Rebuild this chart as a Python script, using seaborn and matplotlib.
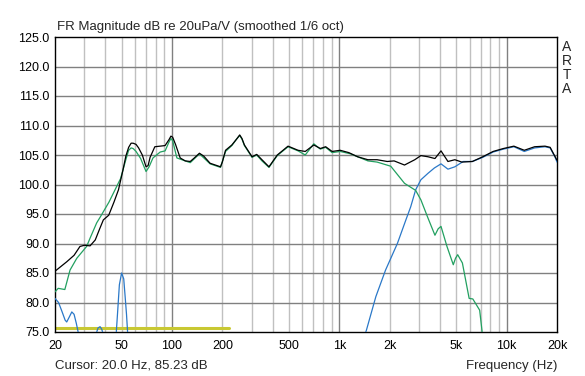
import numpy as np
import pandas as pd
import matplotlib
matplotlib.use("Agg")
import matplotlib.pyplot as plt
import seaborn as sns
from matplotlib.ticker import FixedLocator, NullFormatter

# frequency response
sum_freq = [20, 23.5, 26, 28.2, 30, 32.4, 34.8, 37, 38.9, 41.9, 45, 47.9, 51, 53, 55.1, 57,
            58.6, 61, 63.2, 66.5, 70, 72, 74, 79, 85, 91, 96, 98.6, 101, 105, 112, 120,
            128.6, 136, 146, 155, 169, 195, 200, 209, 228, 245, 254, 262, 271, 301, 321,
            345, 380, 426, 494, 567, 626, 704, 770, 829, 906, 1012, 1141, 1287, 1482,
            1682, 1935, 2126, 2453, 2826, 3073, 3390, 3729, 4054, 4460, 4905, 5400, 6240,
            7200, 8300, 9570, 11050, 12750, 14700, 16950, 18200, 19500, 20000]
sum_db = [85.3, 86.9, 88.0, 89.5, 89.7, 89.6, 90.6, 92.5, 94.0, 94.8, 97.0, 99.1, 102.5, 104.8,
          106.3, 107.0, 107.0, 106.8, 106.2, 105.0, 103.0, 103.2, 104.6, 106.4, 106.5, 106.6,
          107.6, 108.2, 108.0, 106.8, 104.5, 104.0, 103.9, 104.5, 105.3, 104.8, 103.6, 103.0,
          103.8, 105.8, 106.7, 107.8, 108.4, 107.8, 106.7, 104.7, 105.1, 104.2, 103.0, 105.0,
          106.5, 105.8, 105.6, 106.7, 106.1, 106.4, 105.6, 105.8, 105.4, 104.7, 104.2, 104.2,
          103.9, 104.0, 103.3, 104.2, 104.9, 104.7, 104.4, 105.7, 103.9, 104.2, 103.8, 103.9,
          104.7, 105.6, 106.1, 106.5, 105.8, 106.4, 106.5, 106.3, 104.7, 104.1]

woofer_freq = [20, 20.9, 22.9, 24.6, 27.0, 30.9, 32.4, 35.5, 37.3, 42, 49.3, 53, 55.1, 57,
               58.6, 61, 65, 70, 73, 77, 85, 91, 96, 98.6, 101, 107, 128.6, 146, 169, 195,
               209, 228, 245, 254, 262, 271, 301, 321, 345, 380, 426, 494, 567, 626, 704,
               770, 829, 906, 1012, 1165, 1482, 1682, 2030, 2453, 2860, 3073, 3390, 3729,
               3900, 4054, 4400, 4800, 4950, 5100, 5440, 5970, 6280, 6900, 7120, 7400]
woofer_db = [81.8, 82.4, 82.2, 85.5, 87.5, 89.5, 90.9, 93.5, 94.5, 97.0, 101.0, 104.2, 105.8,
             106.2, 106.1, 105.6, 104.4, 102.2, 103.0, 104.5, 105.5, 105.7, 107.2, 107.8,
             107.4, 104.5, 103.7, 105.2, 103.5, 102.9, 105.6, 106.6, 107.8, 108.3, 107.7,
             106.6, 104.6, 105.0, 104.0, 102.9, 104.9, 106.4, 105.7, 105.0, 106.9, 106.0,
             106.3, 105.4, 105.6, 105.2, 104.0, 103.8, 103.1, 100.2, 99.0, 97.4, 94.3, 91.4,
             92.5, 92.9, 89.5, 86.4, 87.5, 88.1, 86.7, 80.7, 80.6, 78.7, 75.3, 70.0]

tweeter_freq = [20, 21, 22, 23, 23.5, 24.3, 25.2, 26, 26.8, 27.5, 28.5, 35.5, 36.2, 37.2, 38,
                38.5, 45, 46.5, 47.5, 48.5, 50, 51.5, 52.5, 53.5, 54.3, 56, 1400, 1452,
                1654, 1890, 2224, 2500, 2670, 2860, 3073, 3390, 3700, 4054, 4460, 4905,
                5500, 6240, 7200, 8300, 9570, 11050, 12750, 14700, 16950, 18200, 19500,
                20000]
tweeter_db = [80.7, 80.0, 78.5, 77.0, 76.7, 77.5, 78.4, 78.0, 76.5, 75.0, 70.0, 75.0, 75.7,
              75.9, 75.5, 75.0, 70.0, 75.0, 79.0, 83.0, 85.0, 84.0, 81.0, 78.0, 75.0, 70.0,
              74.0, 75.3, 81.0, 85.5, 90.0, 94.0, 96.2, 99.1, 100.8, 101.9, 102.8, 103.5,
              102.6, 103.0, 103.9, 103.9, 104.6, 105.5, 106.0, 106.4, 105.6, 106.2, 106.4,
              106.2, 104.6, 103.8]

ref_freq = [20, 219]
ref_db = [75.6, 75.6]

x_ticks = [20, 50, 100, 200, 500, 1000, 2000, 5000, 10000, 20000]
x_labels = ["20", "50", "100", "200", "500", "1k", "2k", "5k", "10k", "20k"]
y_ticks = [75, 80, 85, 90, 95, 100, 105, 110, 115, 120, 125]

sns.set_style("white")
plt.rcParams['font.family'] = ['Liberation Sans', 'DejaVu Sans']

fig = plt.figure(figsize=(5.85, 3.76), dpi=100)
ax = fig.add_axes([55 / 585, 1 - 332 / 376, 502 / 585, 295 / 376])

# grid: light minor lines, darker decades and dB steps
minor = [m * d for d in (10, 100, 1000, 10000) for m in range(2, 10)
         if 20 < m * d < 20000 and m * d not in (100, 1000, 10000)]
for f in minor:
    ax.axvline(f, color="#c0c0c0", lw=1, zorder=0)
for f in (100, 1000, 10000):
    ax.axvline(f, color="#808080", lw=1, zorder=0)
for db in y_ticks[1:-1]:
    ax.axhline(db, color="#808080", lw=1, zorder=0)

sns.lineplot(x=ref_freq, y=ref_db, ax=ax, color="#c8c832", lw=2.2, zorder=2)
sns.lineplot(x=tweeter_freq, y=tweeter_db, ax=ax, color="#2a78c8", lw=0.9, zorder=3)
sns.lineplot(x=woofer_freq, y=woofer_db, ax=ax, color="#22a060", lw=0.9, zorder=4)
sns.lineplot(x=sum_freq, y=sum_db, ax=ax, color="black", lw=0.9, zorder=5)

ax.set_xscale("log")
ax.set_xlim(20, 20000)
ax.set_ylim(75, 125)
ax.xaxis.set_major_locator(FixedLocator(x_ticks))
ax.xaxis.set_minor_formatter(NullFormatter())
ax.set_xticks(x_ticks)
ax.set_xticklabels(x_labels)
ax.set_yticks(y_ticks)
ax.set_yticklabels([f"{v:.1f}" for v in y_ticks])
ax.tick_params(axis="both", which="both", length=0, labelsize=9, colors="black", pad=4)
ax.tick_params(axis="x", pad=6)
for s in ax.spines.values():
    s.set_color("black")
    s.set_linewidth(1)
ax.set_xlabel("")
ax.set_ylabel("")

fig.text(57 / 585, 1 - 27 / 376, "FR Magnitude dB re 20uPa/V (smoothed 1/6 oct)",
         fontsize=9.5, va="center", ha="left")
fig.text(55 / 585, 1 - 366 / 376, "Cursor: 20.0 Hz, 85.23 dB", fontsize=9.5, va="center", ha="left")
fig.text(557 / 585, 1 - 366 / 376, "Frequency (Hz)", fontsize=9.5, va="center", ha="right")
for i, ch in enumerate("ARTA"):
    fig.text(567 / 585, 1 - (47 + i * 14) / 376, ch, fontsize=10, va="center", ha="center")

fig.savefig("out.png", dpi=100, facecolor="white")
